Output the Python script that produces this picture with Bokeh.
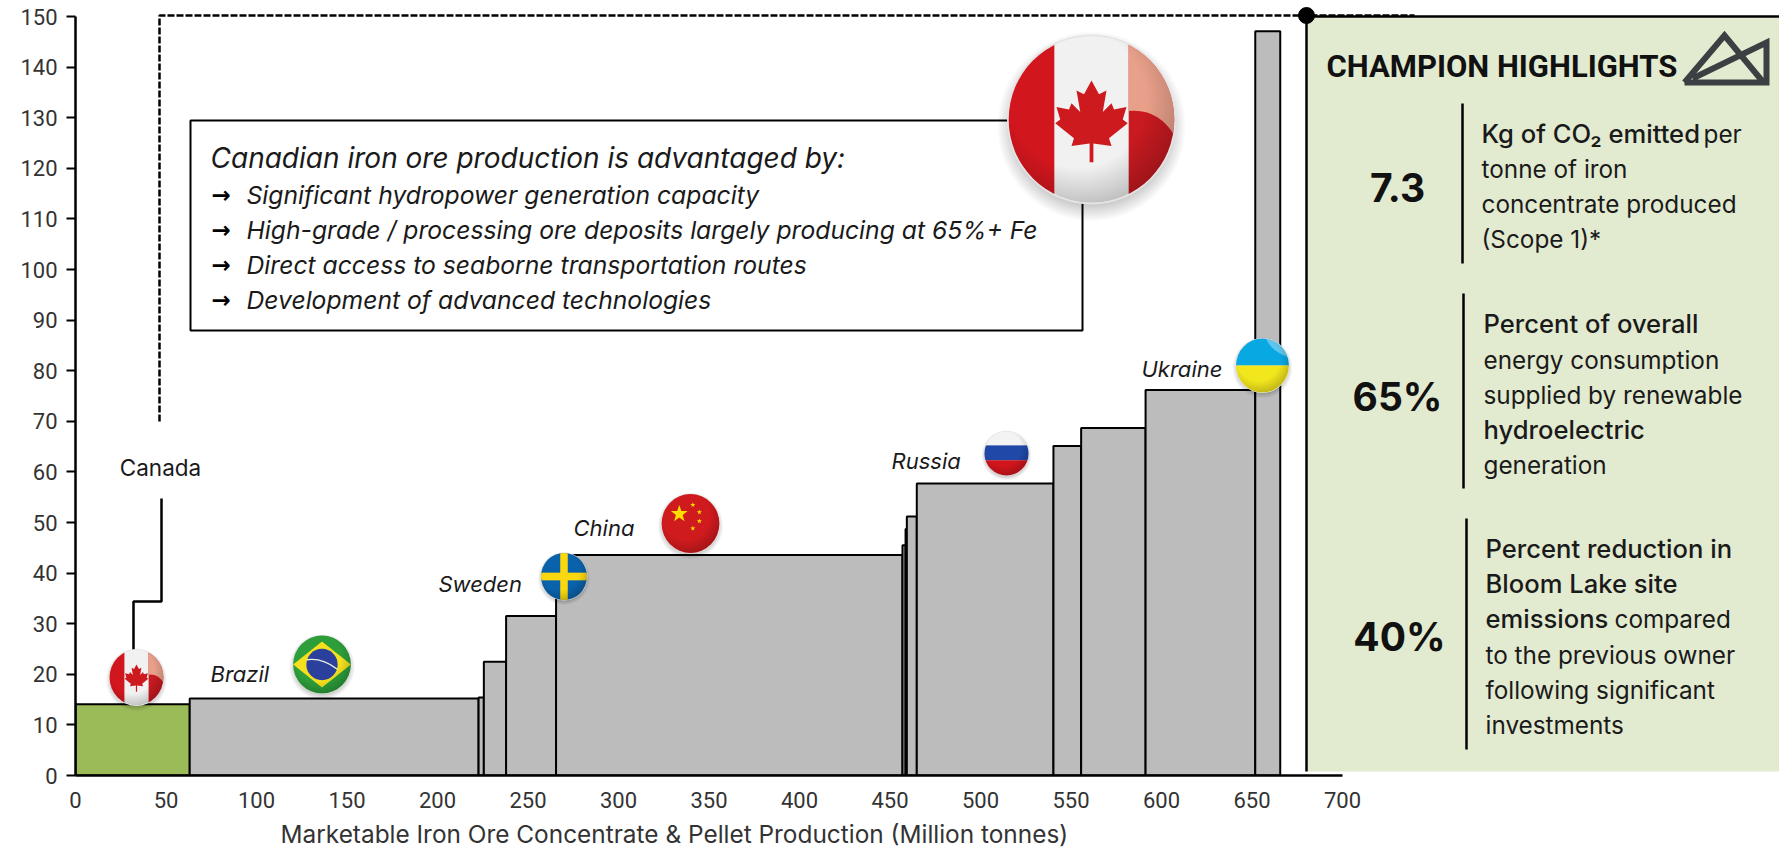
import base64
import math

from bokeh.core.properties import value
from bokeh.embed import file_html
from bokeh.models import FixedTicker, LinearAxis, Title
from bokeh.plotting import figure
from bokeh.resources import INLINE

# Cost-curve style supply chart: bar width is production, bar height is intensity
producers = ["Canada", "Brazil", "Other A", "Other B", "Sweden", "China", "Other C", "Other D",
             "Other E", "Russia", "Other F", "Other G", "Ukraine", "Other H"]
bar_start = [0, 63.1, 222.7, 225.6, 237.9, 265.5, 456.9, 458.6, 459.3, 464.8, 540.3, 555.6, 591.2, 651.8]
bar_end = [63.1, 222.7, 225.6, 237.9, 265.5, 456.9, 458.6, 459.3, 464.8, 540.3, 555.6, 591.2, 651.8, 665.6]
bar_height = [14.1, 15.2, 15.4, 22.5, 31.5, 43.6, 45.5, 48.7, 51.2, 57.7, 65.1, 68.7, 76.2, 147.1]
x_ticks = list(range(0, 701, 50))
y_ticks = list(range(0, 151, 10))
x_title = "Marketable Iron Ore Concentrate & Pellet Production (Million tonnes)"

box_title = "Canadian iron ore production is advantaged by:"
box_items = [
    "Significant hydropower generation capacity",
    "High-grade  / processing ore deposits largely producing at 65%+ Fe",
    "Direct access to seaborne transportation routes",
    "Development of advanced technologies",
]
panel_title = "CHAMPION HIGHLIGHTS"
highlight_values = ["7.3", "65%", "40%"]

W, H = 1779, 855
LEFT, BASE = 75, 775
SX, SY = 1.81, 5.06
FONT = "Inter"
TICK_FONT = "Roboto"


def dx(px):
    return (px - LEFT) / SX


def dy(py):
    return (BASE - py) / SY


p = figure(width=W, height=H, x_range=(0, (W - LEFT) / SX), y_range=(0, BASE / SY),
           output_backend="svg", toolbar_location=None, min_border_left=LEFT, min_border_right=0,
           min_border_top=0, min_border_bottom=H - BASE, frame_width=W - LEFT, frame_height=BASE,
           outline_line_color=None, x_axis_type=None, y_axis_type=None)
p.grid.visible = False
p.background_fill_color = "white"


def style_axis(axis):
    axis.axis_line_color = "black"
    axis.axis_line_width = 2.5
    axis.major_tick_line_color = "black"
    axis.major_tick_line_width = 2
    axis.minor_tick_line_color = None
    axis.major_label_text_font = TICK_FONT
    axis.major_label_text_font_size = "22px"
    axis.major_label_text_color = "#333333"
    axis.major_tick_in = 0


y_axis = LinearAxis(ticker=FixedTicker(ticks=y_ticks), bounds=(0, 150))
style_axis(y_axis)
y_axis.major_tick_out = 9
y_axis.major_label_standoff = 9
p.add_layout(y_axis, "left")

x_axis = LinearAxis(ticker=FixedTicker(ticks=x_ticks), bounds=(0, 700))
style_axis(x_axis)
x_axis.major_tick_out = 0
x_axis.major_label_standoff = 16
p.add_layout(x_axis, "below")

# The x title sits under the bars rather than under the whole frame
p.add_layout(Title(text=x_title, align="left", offset=205, standoff=12, text_font=FONT,
                   text_font_size="24.4px", text_font_style="normal", text_color="#333333"), "below")

# Highlights panel behind everything else
p.quad(left=[dx(1307)], right=[dx(W)], bottom=[dy(771)], top=[dy(17)], fill_color="#e2ead0", line_color=None)

# Production bars
colors = ["#9bbb59"] + ["#bcbcbc"] * (len(bar_start) - 1)
p.quad(left=bar_start, right=bar_end, bottom=0, top=bar_height, fill_color=colors,
       line_color="black", line_width=2)

# Leader lines
p.line([dx(159), dx(159), dx(1414)], [dy(421), dy(15), dy(15)], line_color="black", line_width=2.5,
       line_dash="7 2")
p.line([dx(161), dx(161), dx(133), dx(133)], [dy(498), dy(601), dy(601), dy(650)], line_color="black",
       line_width=2.5)
p.line([dx(1306), dx(1306)], [dy(16), dy(771)], line_color="black", line_width=2.5)
p.line([dx(1306), dx(W)], [dy(16), dy(16)], line_color="black", line_width=2.5)
p.scatter([dx(1306)], [dy(15)], size=16, color="black")

# Call-out box
p.quad(left=[dx(190)], right=[dx(1082)], bottom=[dy(330)], top=[dy(120)], fill_color=None,
       line_color="black", line_width=2)

# Dividers in the panel
p.multi_line([[dx(1462), dx(1462)], [dx(1463), dx(1463)], [dx(1466), dx(1466)]],
             [[dy(103), dy(263)], [dy(293), dy(488)], [dy(518), dy(749)]], line_color="black", line_width=2.5)

# Company mark
p.multi_line([[dx(1684), dx(1724), dx(1763)], [dx(1684), dx(1766), dx(1766), dx(1692)]],
             [[dy(82), dy(35), dy(82)], [dy(82), dy(82), dy(42), dy(78)]],
             line_color="#3c4043", line_width=6, line_join="miter")


def put(px, py, txt, size, style="normal", align="left", font=FONT, color="#1a1a1a"):
    p.text([dx(px)], [dy(py)], text=[txt], text_font=value(font), text_font_size=f"{size}px",
           text_font_style=style, text_align=align, text_baseline="middle", text_color=color)


put(160, 467, "Canada", 22.5, align="center")
put(210, 673, "Brazil", 22, "italic")
put(438, 583, "Sweden", 22, "italic")
put(573, 527, "China", 22, "italic")
put(891, 460, "Russia", 22, "italic")
put(1141, 368, "Ukraine", 22, "italic")

put(210, 157, box_title, 28, "italic")
for row_y, item in zip([194, 229, 264, 299], box_items):
    put(211, row_y, "→", 23, "bold", font="DejaVu Sans", color="black")
    put(246, row_y, item, 24.7, "italic")

put(1326, 66, panel_title, 31, "bold", font="Roboto", color="#111111")
for vy, val, vx in zip([187, 396, 636], highlight_values, [1397, 1397, 1399]):
    put(vx, vy, val, 39, "bold", align="center", color="#111111")

body_normal = [
    (1703, 133, "per"), (1481, 168, "tonne of iron"), (1481, 203, "concentrate produced"), (1481, 238, "(Scope 1)*"),
    (1483, 359, "energy consumption"), (1483, 394, "supplied by renewable"), (1483, 464, "generation"),
    (1614, 618, "compared"), (1485, 654, "to the previous owner"), (1485, 689, "following significant"),
    (1485, 724, "investments"),
]
body_strong = [
    (1481, 133, "Kg of CO₂ emitted"), (1483, 323, "Percent of overall"), (1483, 429, "hydroelectric"),
    (1485, 548, "Percent reduction in"), (1485, 583, "Bloom Lake site"), (1485, 618, "emissions"),
]
for bx, by, txt in body_normal:
    put(bx, by, txt, 24.3)
for bx, by, txt in body_strong:
    put(bx, by, txt, 25.6, font="Inter Medium")


def star(cx, cy, r, rot=-90):
    pts = []
    for i in range(10):
        a = math.radians(rot + i * 36)
        rr = r if i % 2 == 0 else r * 0.4
        pts.append(f"{cx + rr * math.cos(a):.1f},{cy + rr * math.sin(a):.1f}")
    return f'<polygon points="{" ".join(pts)}" fill="#ffde00"/>'


LEAF = ("M100 38 L112 60 L124 54 L118 88 L132 74 L136 84 L156 80 L150 100 L158 106 L128 130 L132 142 "
        "L103 138 L103 168 L97 168 L97 138 L68 142 L72 130 L42 106 L50 100 L44 80 L64 84 L68 74 L82 88 L76 54 "
        "L88 60 Z")
FLAG_ART = {
    "canada": '<rect width="200" height="200" fill="#f1f1f1"/><rect width="56" height="200" fill="#d2161e"/>'
              '<rect x="144" width="56" height="200" fill="#c81a20"/>'
              '<path d="M144 8 L205 50 L205 132 Q185 86 144 90 Z" fill="#e9a08a"/>'
              f'<path d="{LEAF}" transform="translate(26 26) scale(.74)" fill="#cc1a1f"/>',
    "brazil": '<rect width="200" height="200" fill="#2d9e3a"/>'
              '<polygon points="100,22 198,100 100,178 2,100" fill="#f4e01e"/>'
              '<circle cx="100" cy="100" r="53" fill="#2b3f9c"/>'
              '<path d="M48 84 Q100 76 152 116" stroke="#e8f0e0" stroke-width="5" fill="none"/>',
    "sweden": '<rect width="200" height="200" fill="#0a62ab"/><rect x="84" width="32" height="200" fill="#fbd70f"/>'
              '<rect y="84" width="200" height="32" fill="#fbd70f"/>',
    "china": '<rect width="200" height="200" fill="#cf1a1e"/>' + star(62, 68, 30)
             + star(108, 38, 9) + star(130, 62, 9) + star(130, 92, 9) + star(108, 116, 9),
    "russia": '<rect width="200" height="64" fill="#f3f3f3"/><rect y="64" width="200" height="66" fill="#1f48a8"/>'
              '<rect y="130" width="200" height="70" fill="#d0151c"/>',
    "ukraine": '<rect width="200" height="100" fill="#08a8e2"/><rect y="100" width="200" height="100" fill="#f2e61c"/>'
               '<path d="M110 -5 Q125 45 200 72 L205 20 Z" fill="#fff" opacity=".35"/>',
}


def button(art):
    svg = f'''<svg xmlns="http://www.w3.org/2000/svg" width="448" height="496" viewBox="-12 -24 224 248">
<defs><clipPath id="c"><circle cx="100" cy="100" r="98"/></clipPath>
<radialGradient id="s"><stop offset=".7" stop-color="#000" stop-opacity=".35"/><stop offset="1" stop-color="#000" stop-opacity="0"/></radialGradient>
<radialGradient id="d" cx=".42" cy=".38" r=".68"><stop offset=".6" stop-color="#000" stop-opacity="0"/><stop offset="1" stop-color="#000" stop-opacity=".24"/></radialGradient></defs>
<circle cx="100" cy="108" r="112" fill="url(#s)"/>
<circle cx="100" cy="100" r="100" fill="#e4e4e4"/>
<g clip-path="url(#c)">{art}<circle cx="100" cy="100" r="98" fill="url(#d)"/></g></svg>'''
    return "data:image/svg+xml;base64," + base64.b64encode(svg.encode()).decode()


# name, centre x, centre y, diameter across, diameter down (page pixels)
buttons = [
    ("canada", 136, 677, 55, 57), ("brazil", 321.5, 664, 59, 59), ("sweden", 563.5, 576, 47, 48),
    ("china", 690, 523, 59, 60), ("russia", 1006, 453, 45, 45), ("ukraine", 1262, 365, 54, 55),
    ("canada", 1091, 119, 169, 170),
]
p.image_url(url=[button(FLAG_ART[b[0]]) for b in buttons], x=[dx(b[1]) for b in buttons],
            y=[dy(b[2]) for b in buttons], w=[b[3] * 1.12 for b in buttons], h=[b[4] * 1.24 for b in buttons],
            w_units="screen", h_units="screen", anchor="center")

open("out.html", "w").write(file_html(p, INLINE))
